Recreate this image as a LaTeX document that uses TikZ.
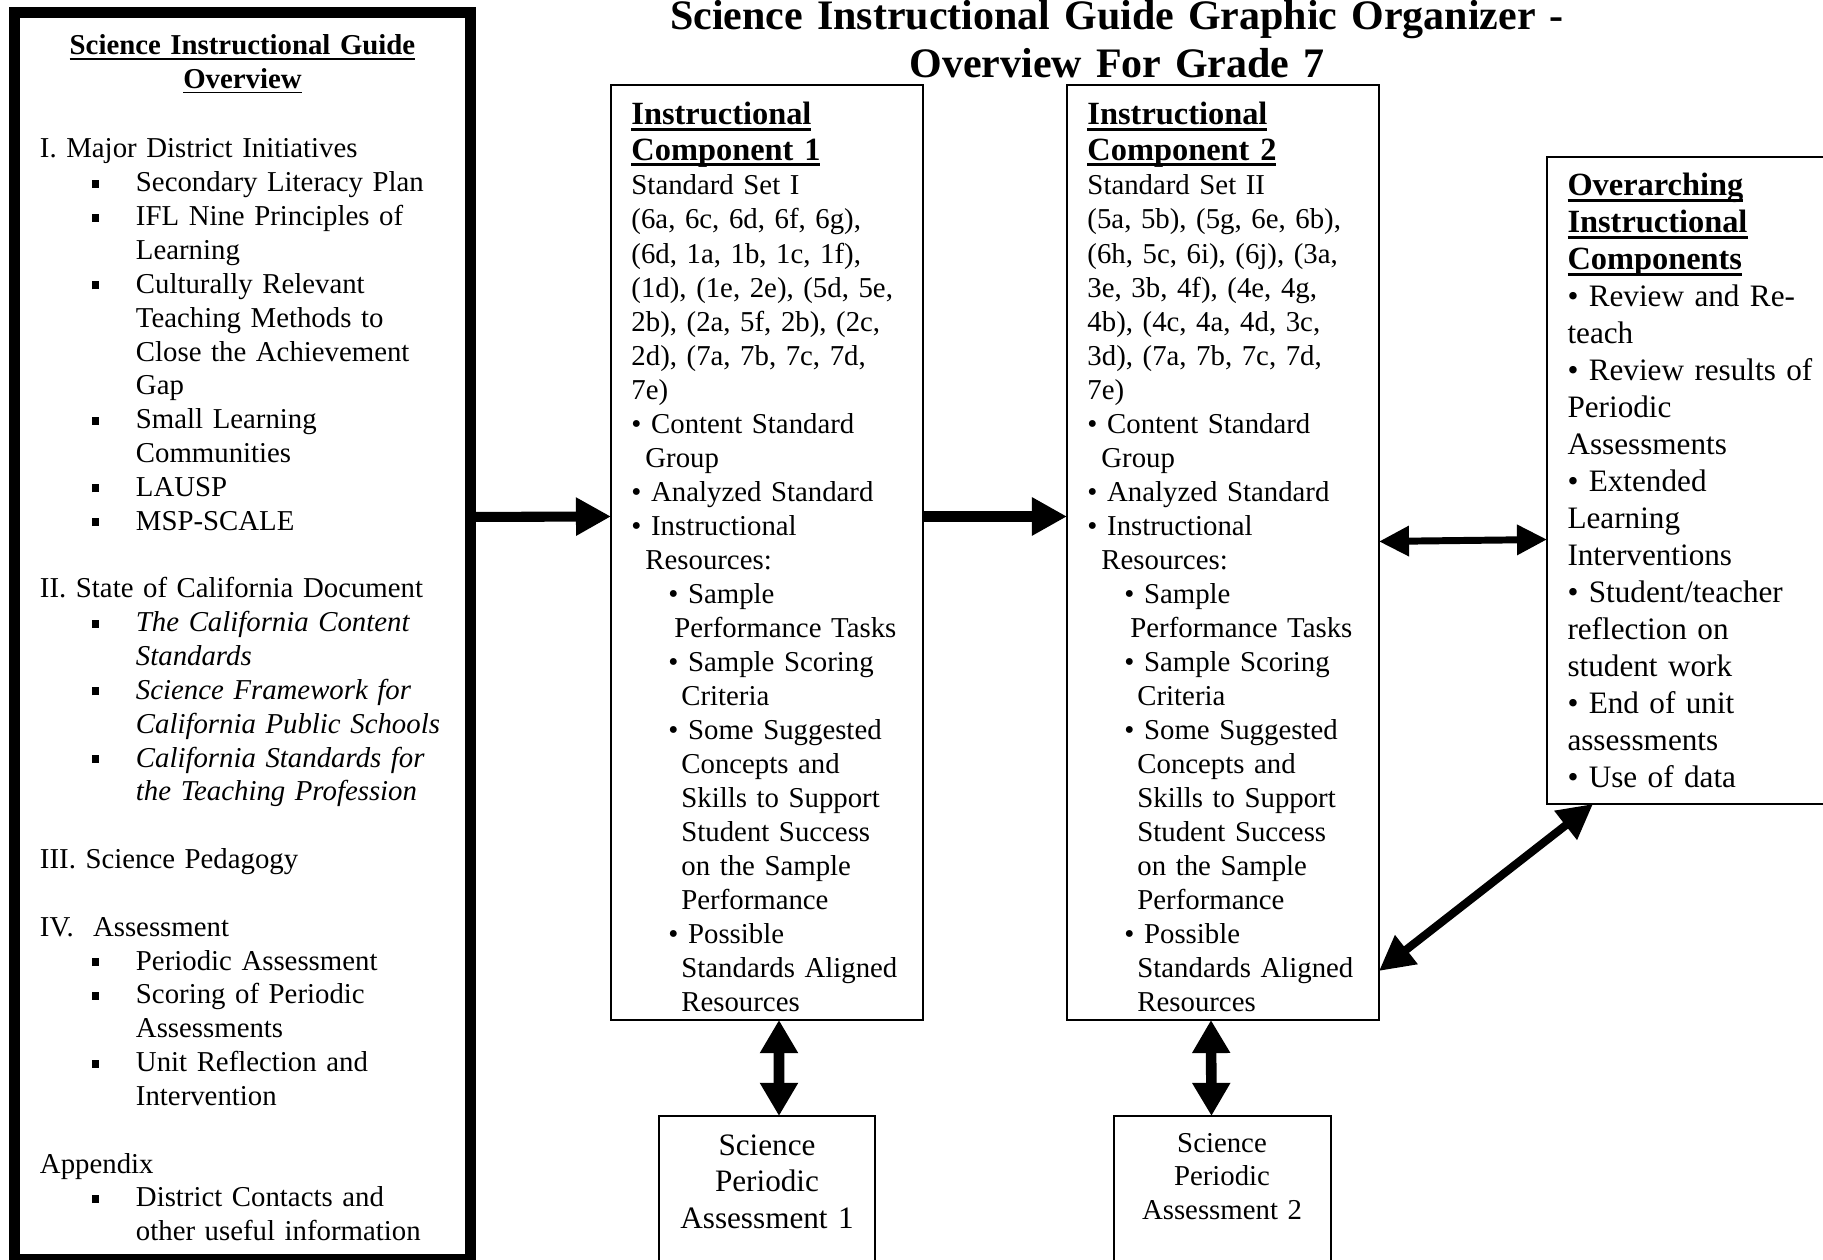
\documentclass[tikz,border=0pt]{standalone}
\usepackage{fontspec}
\setmainfont{Liberation Serif}
\usetikzlibrary{arrows.meta,calc}

\newsavebox\ulbox
\newcommand{\ulthick}[1]{\leavevmode\sbox\ulbox{#1}\rlap{\rule[-2.6pt]{\wd\ulbox}{1.4pt}}\usebox\ulbox}
\newcommand{\ulthin}[1]{\leavevmode\sbox\ulbox{#1}\rlap{\rule[-1.9pt]{\wd\ulbox}{0.6pt}}\usebox\ulbox}
\newcommand{\sqitem}{\hspace*{21.5pt}\raisebox{1.7pt}{\rule{3.3pt}{3.3pt}}\hspace*{15.2pt}}
\newcommand{\sqcont}{\hspace*{40pt}}
\newcommand{\cbul}{\textbullet\ }
\newcommand{\cbulc}{\hspace*{5.8pt}}
\newcommand{\cbulb}{\hspace*{15.4pt}\textbullet\ }
\newcommand{\cbulbc}{\hspace*{20.8pt}}
\newcommand{\overhd}[1]{\ulthick{\fontsize{13.5}{15.4}\selectfont\bfseries #1}}
\newcommand{\complist}{%
\cbul Content Standard\\
\cbulc Group\\
\cbul Analyzed Standard\\
\cbul Instructional\\
\cbulc Resources:\\
\cbulb Sample\\
\hspace*{17.9pt}Performance Tasks\\
\cbulb Sample Scoring\\
\cbulbc Criteria\\
\cbulb Some Suggested\\
\cbulbc Concepts and\\
\cbulbc Skills to Support\\
\cbulbc Student Success\\
\cbulbc on the Sample\\
\cbulbc Performance\\
\cbulb Possible\\
\cbulbc Standards Aligned\\
\cbulbc Resources}

\begin{document}
\begin{tikzpicture}[x=0.4167pt,y=-0.4167pt]

      \useasboundingbox (0,0) rectangle (1823,1260);

      % boxes
      \begin{scope}[every node/.style={draw,rectangle,anchor=north west,outer sep=0pt,inner sep=0pt,line width=0.9pt}]
        \node[line width=4.6pt,minimum width=190pt,minimum height=519.6pt] (overview) at (14.5,12.5) {};
        \node[minimum width=130pt,minimum height=389.6pt] (comp1) at (611,85)   {};
        \node[minimum width=130pt,minimum height=389.6pt] (comp2) at (1067,85)  {};
        \node[minimum width=130pt,minimum height=269.6pt] (over)  at (1547,157) {};
        \node[minimum width=90pt,minimum height=80pt]     (pa1)   at (659,1116) {};
        \node[minimum width=90.4pt,minimum height=80pt]   (pa2)   at (1114,1116) {};
      \end{scope}

      % texts
      \begin{scope}[every node/.style={inner sep=0pt,anchor=base west,align=left}]
        \node[anchor=base,text width=420pt,align=center,font=\fontsize{17.5}{20.2}\selectfont\bfseries] (title) at (1117,29.5)
          {Science Instructional Guide Graphic Organizer -\\Overview For Grade 7};

        \node[anchor=base,text width=180pt,align=center,font=\fontsize{12}{14.1}\selectfont\bfseries] (ovhead) at (242.5,55)
          {\ulthin{Science Instructional Guide}\\\ulthin{Overview}};
        \node[text width=185pt,font=\fontsize{12}{14.1}\selectfont] (ovbody) at (39.5,158) {%
          I. Major District Initiatives\\
          \sqitem Secondary Literacy Plan\\
          \sqitem IFL Nine Principles of\\
          \sqcont Learning\\
          \sqitem Culturally Relevant\\
          \sqcont Teaching Methods to\\
          \sqcont Close the Achievement\\
          \sqcont Gap\\
          \sqitem Small Learning\\
          \sqcont Communities\\
          \sqitem LAUSP\\
          \sqitem MSP-SCALE\\[\baselineskip]
          II. State of California Document\\
          \sqitem\textit{The California Content}\\
          \sqcont\textit{Standards}\\
          \sqitem\textit{Science Framework for}\\
          \sqcont\textit{California Public Schools}\\
          \sqitem\textit{California Standards for}\\
          \sqcont\textit{the Teaching Profession}\\[\baselineskip]
          III. Science Pedagogy\\[\baselineskip]
          IV.\ \ Assessment\\
          \sqitem Periodic Assessment\\
          \sqitem Scoring of Periodic\\
          \sqcont Assessments\\
          \sqitem Unit Reflection and\\
          \sqcont Intervention\\[\baselineskip]
          Appendix\\
          \sqitem District Contacts and\\
          \sqcont other useful information};

        \node[text width=125pt,font=\fontsize{13.5}{14.6}\selectfont\bfseries] (c1head) at (631,125)
          {\ulthick{Instructional}\\\ulthick{Component 1}};
        \node[text width=125pt,font=\fontsize{12}{14.17}\selectfont] (c1body) at (631,195) {%
          Standard Set I\\
          (6a, 6c, 6d, 6f, 6g),\\
          (6d, 1a, 1b, 1c, 1f),\\
          (1d), (1e, 2e), (5d, 5e,\\
          2b), (2a, 5f, 2b), (2c,\\
          2d), (7a, 7b, 7c, 7d,\\
          7e)\\
          \complist};

        \node[text width=125pt,font=\fontsize{13.5}{14.6}\selectfont\bfseries] (c2head) at (1087,125)
          {\ulthick{Instructional}\\\ulthick{Component 2}};
        \node[text width=125pt,font=\fontsize{12}{14.17}\selectfont] (c2body) at (1087,195) {%
          Standard Set II\\
          (5a, 5b), (5g, 6e, 6b),\\
          (6h, 5c, 6i), (6j), (3a,\\
          3e, 3b, 4f), (4e, 4g,\\
          4b), (4c, 4a, 4d, 3c,\\
          3d), (7a, 7b, 7c, 7d,\\
          7e)\\
          \complist};

        \node[text width=115pt,font=\fontsize{13}{15.4}\selectfont] (overtxt) at (1567,196) {%
          \overhd{Overarching}\\
          \overhd{Instructional}\\
          \overhd{Components}\\
          \cbul Review and Re-\\
          teach\\
          \cbul Review results of\\
          Periodic\\
          Assessments\\
          \cbul Extended\\
          Learning\\
          Interventions\\
          \cbul Student/teacher\\
          reflection on\\
          student work\\
          \cbul End of unit\\
          assessments\\
          \cbul Use of data};

        \node[anchor=base,text width=85pt,align=center,font=\fontsize{13}{15.4}\selectfont] (pa1txt) at (767,1155)
          {Science\\Periodic\\Assessment 1};
        \node[anchor=base,text width=85pt,align=center,font=\fontsize{12}{14.1}\selectfont] (pa2txt) at (1222,1152)
          {Science\\Periodic\\Assessment 2};
      \end{scope}

      % arrows
      \begin{scope}[every edge/.style={draw,line width=4.2pt,-{Triangle[length=14.6pt,width=15pt]}}]
        \path ($(overview.east)+(0,-119)$) edge ($(comp1.west)+(0,-36)$);
        \path ($(comp1.east)+(0,-36)$)     edge ($(comp2.west)+(0,-36)$);
      \end{scope}

      \begin{scope}[every edge/.style={draw,line width=4.4pt,{Triangle[length=13.8pt,width=15pt]}-{Triangle[length=13.8pt,width=15pt]}}]
        \path ($(comp1.south)+(12,0)$)  edge ($(pa1.north)+(12,0)$);
        \path ($(comp2.south)+(-12,0)$) edge ($(pa2.north)+(-11,0)$);
      \end{scope}

      \begin{scope}[every edge/.style={draw,line width=2.9pt,{Triangle[length=12.5pt,width=12pt]}-{Triangle[length=12.5pt,width=12pt]}}]
        \path ($(comp2.east)+(0,-11)$) edge ($(over.west)+(0,59)$);
      \end{scope}

      \begin{scope}[every edge/.style={draw,line width=3.4pt,{Triangle[length=14.5pt,width=14.5pt]}-{Triangle[length=14.5pt,width=14.5pt]}}]
        \path ($(comp2.south east)+(0,-49)$) edge ($(over.south west)+(46,0)$);
      \end{scope}

    \end{tikzpicture}
\end{document}
